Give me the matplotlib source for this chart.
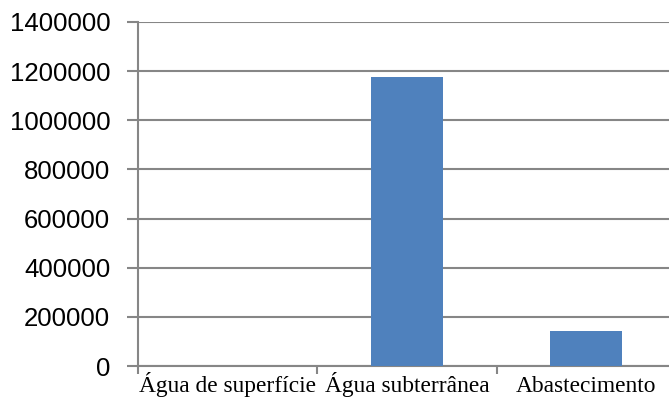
import numpy as np
import matplotlib.pyplot as plt

categories = ['Água de superfície', 'Água subterrânea', 'Abastecimento']
values = [0, 1176000, 142000]
yticks = [0, 200000, 400000, 600000, 800000, 1000000, 1200000, 1400000]

fig = plt.figure(figsize=(6.69, 4.05), dpi=100)
ax = fig.add_axes([138/669, 39/405, 538/669, 344/405])

x = np.arange(len(categories))
ax.bar(x, values, width=0.4, color='#4F81BD', zorder=3)

ax.set_xlim(-0.5, 2.5)
ax.set_ylim(0, 1400000)
ax.set_yticks(yticks)
ax.set_yticklabels([str(v) for v in yticks], fontfamily='Liberation Sans', fontsize=18.5)
ax.yaxis.grid(True, color='#868686', linewidth=1.5, zorder=0)

ax.set_xticks(x)
ax.set_xticklabels(categories, fontfamily='Liberation Serif', fontsize=16.8)
for lbl in ax.get_xticklabels():
    lbl.set_verticalalignment('baseline')
ax.set_xticks([-0.5, 0.5, 1.5, 2.5], minor=True)
ax.tick_params(axis='x', which='major', length=0, pad=18.5)
ax.tick_params(axis='x', which='minor', length=6, width=1.5, color='#868686', direction='out')
ax.tick_params(axis='y', length=8, width=1.5, color='#868686', pad=12)

for s in ['top', 'right']:
    ax.spines[s].set_visible(False)
for s in ['left', 'bottom']:
    ax.spines[s].set_color('#868686')
    ax.spines[s].set_linewidth(1.5)

fig.savefig('out.png', dpi=100)
